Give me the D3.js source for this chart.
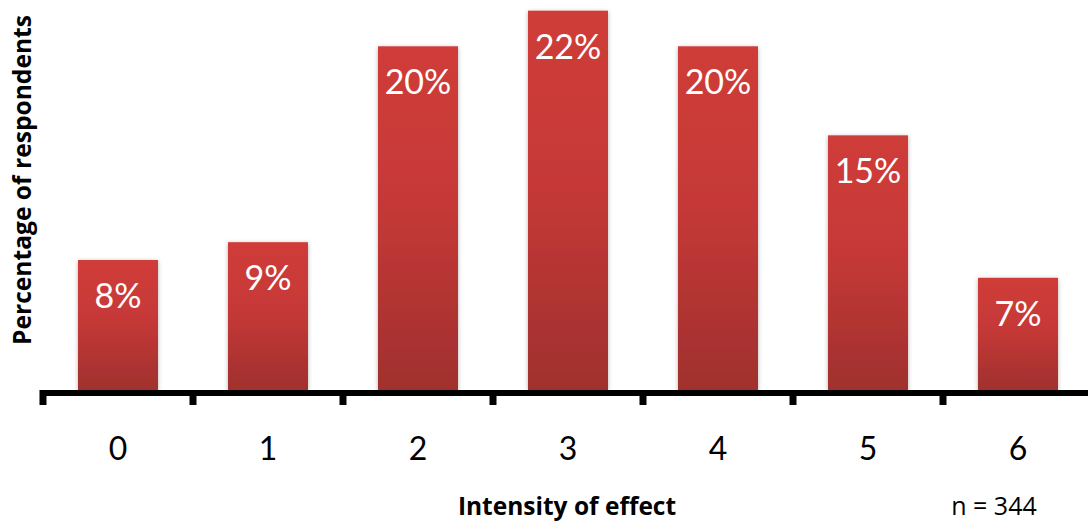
<!DOCTYPE html>
<html>
<head>
<meta charset="utf-8">
<script src="https://cdn.jsdelivr.net/npm/d3@7/dist/d3.min.js"></script>
<style>
  html, body { margin: 0; padding: 0; background: #ffffff; }
  svg { display: block; }
</style>
</head>
<body>
<svg id="chart" width="1088" height="525"></svg>
<script>
// Intensity levels on the x axis and the share of respondents (%) at each
const categories = ["0", "1", "2", "3", "4", "5", "6"];
const percentages = [8, 9, 20, 22, 20, 15, 7];
const xTitle = "Intensity of effect";
const yTitle = "Percentage of respondents";
const sampleNote = "n = 344";

const W = 1088, H = 525;
const baseY = 390;
const svg = d3.select("#chart");

const x = d3.scaleBand()
  .domain(categories)
  .range([43, 1093])
  .paddingInner(0.4667)
  .paddingOuter(0.2333);

const y = d3.scaleLinear()
  .domain([0.7, 22.6])
  .range([baseY, 0]);

const defs = svg.append("defs");
const grad = defs.append("linearGradient")
  .attr("id", "barFill")
  .attr("x1", 0).attr("y1", 0).attr("x2", 0).attr("y2", 1);
grad.append("stop").attr("offset", "0%").attr("stop-color", "#cf3c39");
grad.append("stop").attr("offset", "45%").attr("stop-color", "#c63937");
grad.append("stop").attr("offset", "100%").attr("stop-color", "#a0302e");

const shadow = defs.append("filter")
  .attr("id", "barShadow")
  .attr("x", "-20%").attr("y", "-10%").attr("width", "140%").attr("height", "130%");
shadow.append("feDropShadow")
  .attr("dx", 0).attr("dy", 1)
  .attr("stdDeviation", 2)
  .attr("flood-color", "#000")
  .attr("flood-opacity", 0.3);

// Bars
svg.append("g")
  .selectAll("rect")
  .data(percentages)
  .join("rect")
  .attr("x", (d, i) => x(categories[i]))
  .attr("y", d => y(d))
  .attr("width", x.bandwidth())
  .attr("height", d => baseY - y(d))
  .attr("fill", "url(#barFill)")
  .attr("filter", "url(#barShadow)");

// Value labels inside the bars
svg.append("g")
  .selectAll("text")
  .data(percentages)
  .join("text")
  .attr("x", (d, i) => x(categories[i]) + x.bandwidth() / 2)
  .attr("y", d => y(d) + 48)
  .attr("text-anchor", "middle")
  .attr("fill", "#ffffff")
  .style("font-family", "Lato, 'Open Sans', sans-serif")
  .style("font-size", "34px")
  .text(d => d3.format(".0f")(d) + "%");

// Category axis: thick baseline with ticks between the categories
const axis = svg.append("g");
axis.append("rect")
  .attr("x", x.range()[0] - 3)
  .attr("y", baseY)
  .attr("width", W - x.range()[0] + 3)
  .attr("height", 6)
  .attr("fill", "#000");

const boundaries = categories.map(c => x(c) + x.bandwidth() / 2 - x.step() / 2);
boundaries.push(x(categories[categories.length - 1]) + x.bandwidth() / 2 + x.step() / 2);
axis.selectAll("rect.tick")
  .data(boundaries)
  .join("rect")
  .attr("class", "tick")
  .attr("x", d => d - 3.5)
  .attr("y", baseY)
  .attr("width", 7)
  .attr("height", 15)
  .attr("fill", "#000");

axis.selectAll("text")
  .data(categories)
  .join("text")
  .attr("x", d => x(d) + x.bandwidth() / 2)
  .attr("y", 460)
  .attr("text-anchor", "middle")
  .attr("fill", "#000")
  .style("font-family", "Lato, 'Open Sans', sans-serif")
  .style("font-size", "32px")
  .text(d => d);

// Axis titles and sample size
const titleFont = "'Open Sans', Lato, sans-serif";
svg.append("text")
  .attr("x", 567)
  .attr("y", 515)
  .attr("text-anchor", "middle")
  .style("font-family", titleFont)
  .style("font-size", "24.5px")
  .style("font-weight", "bold")
  .text(xTitle);

svg.append("text")
  .attr("x", 994)
  .attr("y", 515)
  .attr("text-anchor", "middle")
  .style("font-family", titleFont)
  .style("font-size", "25px")
  .text(sampleNote);

svg.append("text")
  .attr("transform", "translate(31,180) rotate(-90)")
  .attr("text-anchor", "middle")
  .style("font-family", titleFont)
  .style("font-size", "24.6px")
  .style("font-weight", "bold")
  .text(yTitle);
</script>
</body>
</html>
